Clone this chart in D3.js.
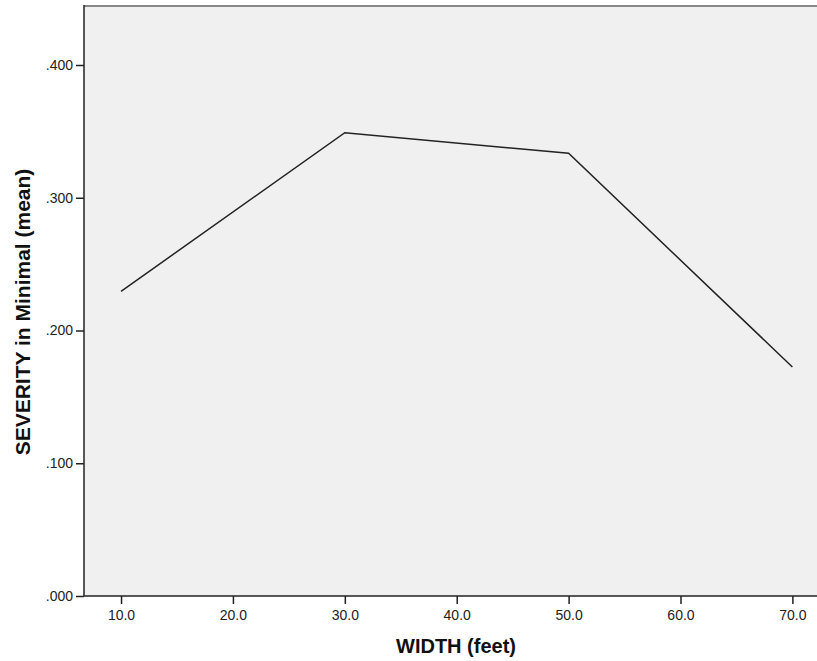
<!DOCTYPE html>
<html><head><meta charset="utf-8">
<script src="https://cdn.jsdelivr.net/npm/d3@7"></script>
<style>body{margin:0;background:#fff}svg{display:block}</style>
</head><body>
<script>
const widths = [10, 30, 50, 70];
const severityMean = [0.2295, 0.349, 0.3335, 0.1725];
const xTicks = [10, 20, 30, 40, 50, 60, 70];
const yTicks = [0, 0.1, 0.2, 0.3, 0.4];

const W = 817, H = 661;
const L = 84, R = 817, T = 5, B = 596;
const svg = d3.select("body").append("svg").attr("width", W).attr("height", H)
  .style("font-family", "'Liberation Sans', Arial, sans-serif");

const x = d3.scaleLinear().domain([6.69, 72.2]).range([L, R]);
const y = d3.scaleLinear().domain([0, 0.4]).range([B, 65]);

svg.append("rect").attr("x", L).attr("y", T).attr("width", R - L).attr("height", B - T).attr("fill", "#f0f0f0");
svg.append("line").attr("x1", L).attr("x2", R).attr("y1", T + 1).attr("y2", T + 1)
  .attr("stroke", "#888").attr("stroke-width", 2);

const yAxis = svg.append("g").attr("transform", `translate(${L},0)`)
  .call(d3.axisLeft(y).tickValues(yTicks).tickSize(8).tickPadding(3)
    .tickFormat(d => d3.format(".3f")(d).replace(/^0/, "")));
yAxis.select(".domain").attr("d", `M0,${T}V${B}`).attr("stroke", "#222").attr("stroke-width", 1.5);

const xAxis = svg.append("g").attr("transform", `translate(0,${B})`)
  .call(d3.axisBottom(x).tickValues(xTicks).tickSize(8).tickPadding(6).tickFormat(d3.format(".1f")));
xAxis.select(".domain").attr("d", `M${L},0H${R}`).attr("stroke", "#222").attr("stroke-width", 1.5);

[yAxis, xAxis].forEach(a => {
  a.selectAll(".tick line").attr("stroke", "#222").attr("stroke-width", 1.5);
  a.selectAll(".tick text").attr("fill", "#222").style("font-size", "14px").style("font-family", "'Liberation Sans', Arial, sans-serif");
});

const pts = widths.map((w, i) => [w, severityMean[i]]);
svg.append("path").datum(pts)
  .attr("d", d3.line().x(d => x(d[0])).y(d => y(d[1])))
  .attr("fill", "none").attr("stroke", "#222").attr("stroke-width", 1.5);

svg.append("text").attr("x", 456).attr("y", 653).attr("text-anchor", "middle")
  .style("font-size", "20px").style("font-weight", "bold").attr("fill", "#111").text("WIDTH (feet)");
svg.append("text").attr("transform", "translate(30,312) rotate(-90)").attr("text-anchor", "middle")
  .style("font-size", "21px").style("font-weight", "bold").attr("fill", "#111").text("SEVERITY in Minimal (mean)");
</script>
</body></html>
